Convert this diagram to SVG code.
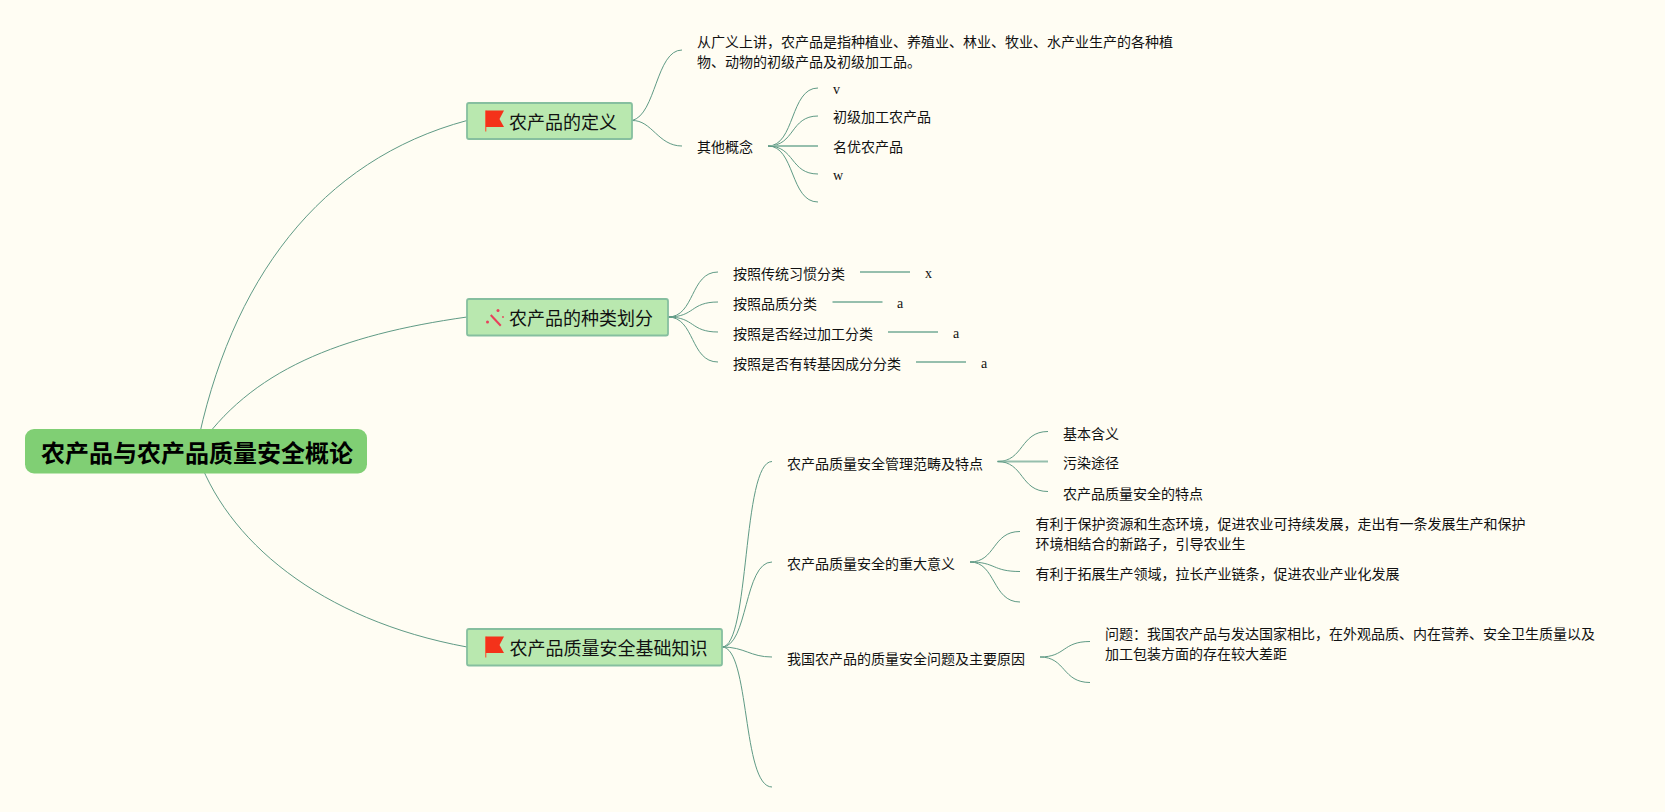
<svg xmlns="http://www.w3.org/2000/svg" width="1665" height="812" viewBox="0 0 1665 812">
<style>
text{font-family:"Liberation Serif","Noto Sans CJK SC",sans-serif;fill:#111}
.t{font-size:14px}
.m{font-size:18px}
.r{font-size:24px;font-weight:700;fill:#000}
.c{fill:none;stroke:#5f9a85;stroke-width:1}
.s{fill:none;stroke:#96bfad;stroke-width:1.8}
.tb{fill:#b9e8af;stroke:#86bf9f;stroke-width:1.8}
.flag{fill:#f4321a}
.pole{fill:#f0704a}
</style>
<defs>
<g id="flagIcon"><rect class="pole" x="0" y="0" width="1.4" height="21"/><path class="flag" d="M0.8 0H19L14.5 8.500L19 16.500H0.8Z"/></g>
</defs>
<rect width="1665" height="812" fill="#fffdf3"/>
<g id="connectors">
<path class="c" d="M196 451C230 280 320 160 467 120.500"/>
<path class="c" d="M196 451C250 370 340 335 467 317"/>
<path class="c" d="M196 451C225 540 320 620 467 647"/>
<path class="c" d="M632 120.500C656 115 656 50 682 50"/>
<path class="c" d="M632 120.500C652 120 658 146 682 146"/>
<path class="c" d="M768 146C795 146 790 88 818 88"/>
<path class="c" d="M768 146C795 146 790 116 818 116"/>
<path class="s" d="M768 146H818"/>
<path class="c" d="M768 146C795 146 790 174 818 174"/>
<path class="c" d="M768 146C795 146 790 202 818 202"/>
<path class="c" d="M668 317C695 317 690 272 718 272"/>
<path class="c" d="M668 317C695 317 690 302 718 302"/>
<path class="c" d="M668 317C695 317 690 332 718 332"/>
<path class="c" d="M668 317C695 317 690 362 718 362"/>
<path class="s" d="M860 272H910M832.500 302H882.500M888 332H938M916 362H966"/>
<path class="c" d="M722 647C750 647 742 461.500 772 461.500"/>
<path class="c" d="M722 647C748 647 744 562 772 562"/>
<path class="c" d="M722 647C745 647 750 657 772 657"/>
<path class="c" d="M722 647C750 647 742 787 772 787"/>
<path class="c" d="M997.500 461.500C1024 461.500 1020 431.500 1048 431.500"/>
<path class="s" d="M997.500 461.500H1048"/>
<path class="c" d="M997.500 461.500C1024 461.500 1020 491.500 1048 491.500"/>
<path class="c" d="M970 562C996 562 992 531.500 1020 531.500"/>
<path class="c" d="M970 562C996 562 992 571.500 1020 571.500"/>
<path class="c" d="M970 562C996 562 992 602 1020 602"/>
<path class="c" d="M1040 657C1066 657 1062 641.500 1090 641.500"/>
<path class="c" d="M1040 657C1066 657 1062 682.500 1090 682.500"/>
</g>
<g id="root"><rect x="25" y="429" width="342" height="44.500" rx="9" fill="#80cf74"/><text class="r" x="41" y="461.500">农产品与农产品质量安全概论</text></g>
<g id="topic-definition"><rect class="tb" x="467" y="103" width="165" height="36" rx="2"/><use href="#flagIcon" x="485" y="110.500"/><text class="m" x="509" y="128.500">农产品的定义</text></g>
<g id="topic-types"><rect class="tb" x="467" y="299" width="201" height="36.500" rx="2"/>
<g fill="#e8405a"><path d="M490 315.800L491.500 314.300L501.500 325L500 326.500Z"/><circle cx="498" cy="310.500" r="1.500"/><circle cx="487.500" cy="322" r="1.500"/><circle cx="503" cy="317" r="0.900"/></g>
<text class="m" x="509" y="324.500">农产品的种类划分</text></g>
<g id="topic-basics"><rect class="tb" x="467" y="629" width="255" height="36.500" rx="2"/><use href="#flagIcon" x="485" y="636.500"/><text class="m" x="509.500" y="654.500">农产品质量安全基础知识</text></g>
<g id="n-def"><text class="t" x="697" y="46.500">从广义上讲，农产品是指种植业、养殖业、林业、牧业、水产业生产的各种植</text><text class="t" x="697" y="66.500">物、动物的初级产品及初级加工品。</text></g>
<g id="n-other"><text class="t" x="697" y="152">其他概念</text></g>
<g id="n-v"><text class="t" x="833" y="94">v</text></g>
<g id="n-primary"><text class="t" x="833" y="122">初级加工农产品</text></g>
<g id="n-famous"><text class="t" x="833" y="152">名优农产品</text></g>
<g id="n-w"><text class="t" x="833" y="180">w</text></g>
<g id="n-habit"><text class="t" x="733" y="278.500">按照传统习惯分类</text></g>
<g id="n-x"><text class="t" x="925" y="278">x</text></g>
<g id="n-quality"><text class="t" x="733" y="308.500">按照品质分类</text></g>
<g id="n-a1"><text class="t" x="897" y="308">a</text></g>
<g id="n-process"><text class="t" x="733" y="338.500">按照是否经过加工分类</text></g>
<g id="n-a2"><text class="t" x="953" y="338">a</text></g>
<g id="n-gene"><text class="t" x="733" y="368.500">按照是否有转基因成分分类</text></g>
<g id="n-a3"><text class="t" x="981" y="368">a</text></g>
<g id="n-scope"><text class="t" x="787" y="468.500">农产品质量安全管理范畴及特点</text></g>
<g id="n-meaning"><text class="t" x="1063" y="438.500">基本含义</text></g>
<g id="n-route"><text class="t" x="1063" y="468">污染途径</text></g>
<g id="n-traits"><text class="t" x="1063" y="498.500">农产品质量安全的特点</text></g>
<g id="n-signif"><text class="t" x="787" y="568.500">农产品质量安全的重大意义</text></g>
<g id="n-s1"><text class="t" x="1035.500" y="528.500">有利于保护资源和生态环境，促进农业可持续发展，走出有一条发展生产和保护</text><text class="t" x="1035.500" y="548.500">环境相结合的新路子，引导农业生</text></g>
<g id="n-s2"><text class="t" x="1035.500" y="578.500">有利于拓展生产领域，拉长产业链条，促进农业产业化发展</text></g>
<g id="n-problem"><text class="t" x="787" y="663.500">我国农产品的质量安全问题及主要原因</text></g>
<g id="n-p1"><text class="t" x="1105" y="638.500">问题：我国农产品与发达国家相比，在外观品质、内在营养、安全卫生质量以及</text><text class="t" x="1105" y="658.500">加工包装方面的存在较大差距</text></g>
</svg>
